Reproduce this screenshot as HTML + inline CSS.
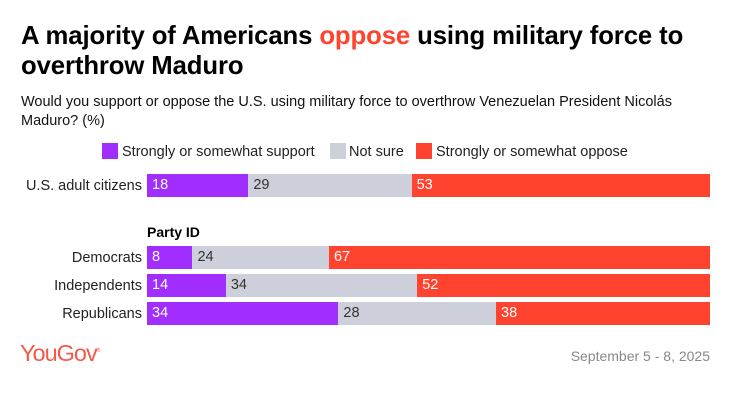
<!DOCTYPE html>
<html><head><meta charset="utf-8"><style>
body{margin:0;width:746px;height:401px;background:#fff;font-family:"Liberation Sans",sans-serif;position:relative;overflow:hidden}
.a{position:absolute;white-space:nowrap}
.t{font-weight:bold;font-size:25.7px;color:#000;left:21px;letter-spacing:-0.1px}
.lab{font-size:14.5px;color:#222;text-align:right;right:604px}
.seg{position:absolute;height:23px;font-size:14.5px;line-height:23px;box-sizing:border-box;padding-left:5px}
.sw{position:absolute;width:16px;height:16px}
</style></head><body>
<div class="a t" style="top:22px">A majority of Americans <span style="color:#ff432e">oppose</span> using military force to</div>
<div class="a t" style="top:52px">overthrow Maduro</div>
<div class="a" style="left:21px;top:93px;font-size:14.5px;color:#111;line-height:19px">Would you support or oppose the U.S. using military force to overthrow Venezuelan President Nicolás<br>Maduro? (%)</div>
<div>
<div class="sw" style="left:102px;top:143px;background:#a12dff"></div>
<div class="a" style="left:122px;top:144px;font-size:14.5px;color:#222">Strongly or somewhat support</div>
<div class="sw" style="left:330px;top:143px;background:#cdd0da"></div>
<div class="a" style="left:349px;top:144px;font-size:14.5px;color:#222">Not sure</div>
<div class="sw" style="left:416px;top:143px;background:#ff432e"></div>
<div class="a" style="left:436px;top:144px;font-size:14.5px;color:#222">Strongly or somewhat oppose</div>
</div>
<div class="a" style="left:147px;top:224px;font-size:14px;font-weight:bold;color:#000">Party ID</div>
<div id="chart"></div>
<div class="a" style="left:20px;top:340px;font-size:23.5px;color:#f4594b;letter-spacing:-1px">YouGov<sup style="font-size:5px">®</sup></div>
<div class="a" style="right:36px;top:348px;font-size:14px;color:#888">September 5 - 8, 2025</div>
<script>
const categories=["U.S. adult citizens","Democrats","Independents","Republicans"];
const support=[18,8,14,34];
const notSure=[29,24,34,28];
const oppose=[53,67,52,38];
const rowTops=[174,246,274,302];
const x0=147,W=563;
const c=document.getElementById('chart');
categories.forEach((cat,i)=>{
  const total=support[i]+notSure[i]+oppose[i];
  const xs=v=>v/total*W;
  const l=document.createElement('div');
  l.className='a lab';l.style.top=(rowTops[i]+4)+'px';l.textContent=cat;
  
  
  c.appendChild(l);
  let x=x0;
  [[support[i],'#a12dff','#fff','support'],[notSure[i],'#cdd0da','#333','not-sure'],[oppose[i],'#ff432e','#fff','oppose']].forEach(([v,bg,fg,nm])=>{
    const s=document.createElement('div');
    s.className='seg';
    s.style.left=x+'px';s.style.top=rowTops[i]+'px';s.style.width=xs(v)+'px';
    s.style.background=bg;s.style.color=fg;s.textContent=v;
    
    
    c.appendChild(s);x+=xs(v);
  });
});
</script>
</body></html>
